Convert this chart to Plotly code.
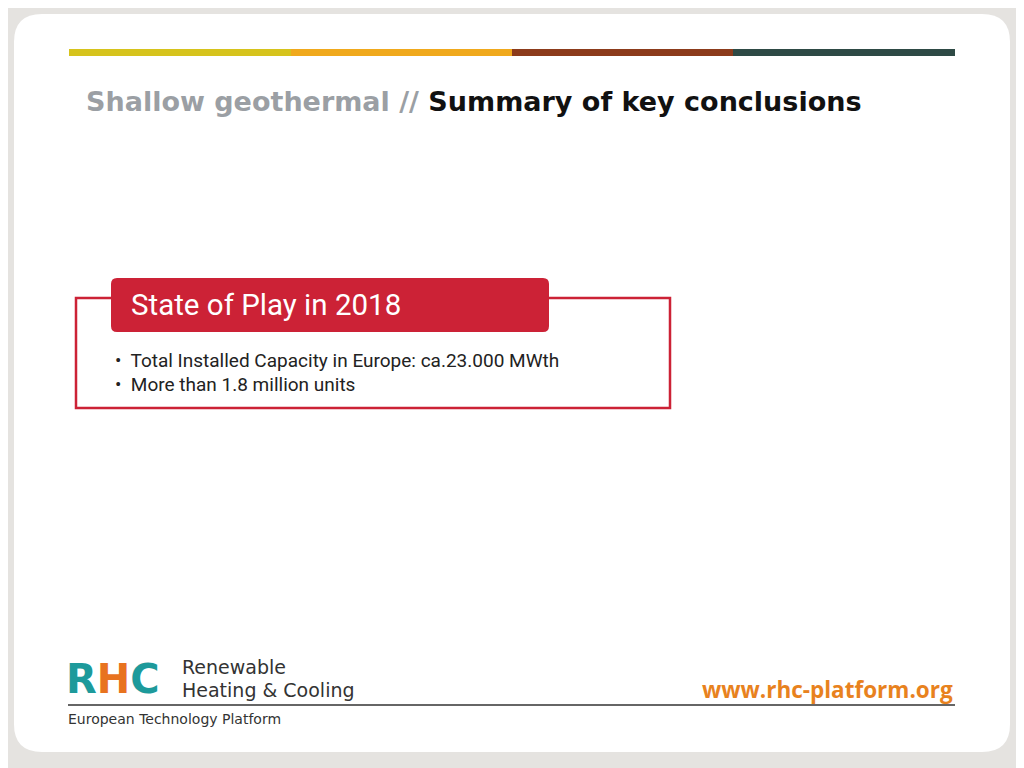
import plotly.graph_objects as go

bar_colors = ["#d6c31c", "#f0a91d", "#8c3b1b", "#2e4a45"]
bar_edges = [69, 291, 512, 733, 955]
title_grey = "Shallow geothermal //"
title_dark = "Summary of key conclusions"
box_header = "State of Play in 2018"
bullets = ["•  Total Installed Capacity in Europe: ca.23.000 MWth",
           "•  More than 1.8 million units"]
logo_letters = [("R", "#1d9a9b"), ("H", "#e8731f"), ("C", "#1d9a9b")]
url = "www.rhc-platform.org"

fig = go.Figure()
shapes = []
annots = []
F = "Roboto, Liberation Sans, sans-serif"
D = "DejaVu Sans, sans-serif"

def rounded(x0, y0, x1, y1, r):
    return (f"M{x0+r},{y0} L{x1-r},{y0} Q{x1},{y0} {x1},{y0+r} L{x1},{y1-r} "
            f"Q{x1},{y1} {x1-r},{y1} L{x0+r},{y1} Q{x0},{y1} {x0},{y1-r} "
            f"L{x0},{y0+r} Q{x0},{y0} {x0+r},{y0} Z")

shapes.append(dict(type="path", path=rounded(14, 14, 1010, 752, 28),
                   fillcolor="white", line=dict(width=0), layer="below"))
for i, c in enumerate(bar_colors):
    shapes.append(dict(type="rect", x0=bar_edges[i], x1=bar_edges[i+1], y0=49, y1=56,
                       fillcolor=c, line=dict(width=0)))

annots.append(dict(x=84, y=101, text=f"<b><span style='color:#9b9fa4'>{title_grey}</span> {title_dark}</b>",
                   xanchor="left", yanchor="middle", showarrow=False,
                   font=dict(family=D, size=27, color="#111")))

shapes.append(dict(type="rect", x0=76, x1=670, y0=298, y1=408,
                   line=dict(color="#cc2236", width=2.5), fillcolor="white"))
shapes.append(dict(type="path", path=rounded(111, 278, 549, 332, 6),
                   fillcolor="#cc2236", line=dict(width=0)))
annots.append(dict(x=129, y=305, text=box_header, xanchor="left", yanchor="middle",
                   showarrow=False, font=dict(family=F, size=29.5, color="white")))
for i, b in enumerate(bullets):
    annots.append(dict(x=113, y=360 + 24 * i, text=b, xanchor="left", yanchor="middle",
                       showarrow=False, font=dict(family=F, size=19, color="#222")))

# logo
rhc = "".join(f"<span style='color:{c}'>{ch}</span>" for ch, c in logo_letters)
annots.append(dict(x=64, y=679, text=f"<b>{rhc}</b>", xanchor="left", yanchor="middle",
                   showarrow=False, font=dict(family=D, size=40)))
annots.append(dict(x=180, y=667, text="Renewable", xanchor="left", yanchor="middle", showarrow=False,
                   font=dict(family=D, size=19, color="#333")))
annots.append(dict(x=180, y=690, text="Heating & Cooling", xanchor="left", yanchor="middle", showarrow=False,
                   font=dict(family=D, size=19, color="#333")))
annots.append(dict(x=66, y=719, text="European Technology Platform", xanchor="left", yanchor="middle",
                   showarrow=False, font=dict(family=D, size=14, color="#333")))
shapes.append(dict(type="line", x0=68, x1=955, y0=705, y1=705, line=dict(color="#333", width=1.5)))
annots.append(dict(x=955, y=689, text=f"<b>{url}</b>", xanchor="right", yanchor="middle", showarrow=False,
                   font=dict(family="Open Sans, sans-serif", size=22.5, color="#e8821e")))

# the page puts the figure 8px in from the corner, so shift the ranges to compensate
fig.update_layout(width=1024, height=768, margin=dict(l=0, r=0, t=0, b=0),
                  paper_bgcolor="#e5e3e0", plot_bgcolor="#e5e3e0",
                  shapes=shapes, annotations=annots, showlegend=False,
                  xaxis=dict(range=[8, 1032], visible=False, fixedrange=True),
                  yaxis=dict(range=[776, 8], visible=False, fixedrange=True))
fig.write_html("out.html")
